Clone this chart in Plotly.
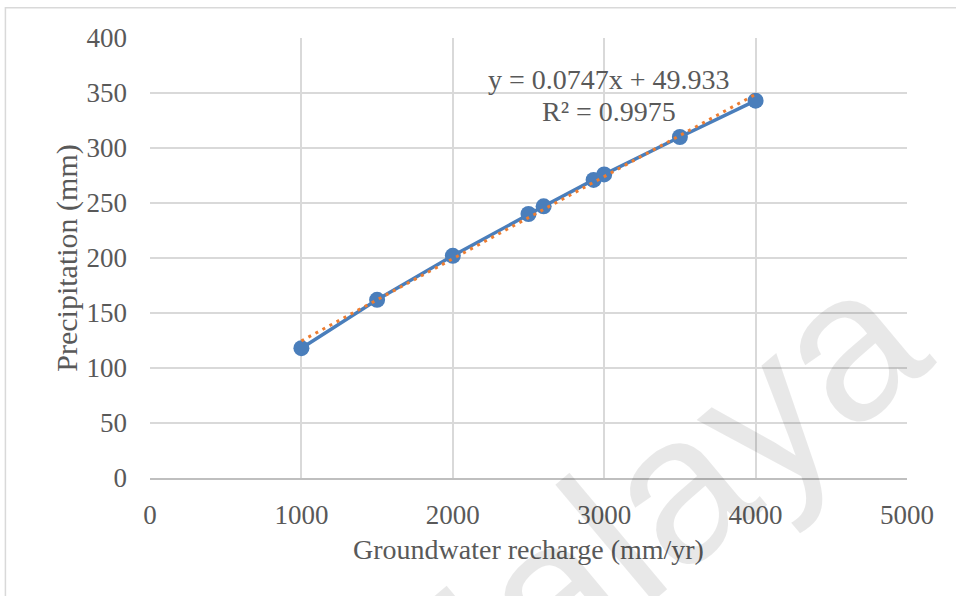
import plotly.graph_objects as go

# Data
recharge = [1000, 1500, 2000, 2500, 2600, 2930, 3000, 3500, 4000]
precip = [118, 162, 202, 240, 247, 271, 276, 310, 343]

# Linear trendline as shown on the chart
trend_slope = 0.0747
trend_intercept = 49.933
trend_r2 = 0.9975
trend_x = [min(recharge), max(recharge)]
trend_y = [trend_slope * v + trend_intercept for v in trend_x]

x_ticks = [0, 1000, 2000, 3000, 4000, 5000]
y_ticks = [0, 50, 100, 150, 200, 250, 300, 350, 400]

TEXT = "#595959"
GRID = "#d9d9d9"
SERIF = "Liberation Serif"

fig = go.Figure()
fig.add_trace(go.Scatter(
    x=recharge, y=precip, mode="lines+markers",
    line=dict(color="#4A7EBB", width=3.5),
    marker=dict(color="#4A7EBB", size=16),
    showlegend=False, hoverinfo="skip",
))
fig.add_trace(go.Scatter(
    x=trend_x, y=trend_y, mode="lines",
    line=dict(color="#ED7D31", width=3, dash="3px,5px"),
    showlegend=False, hoverinfo="skip",
))

fig.update_layout(
    width=956, height=596,
    margin=dict(l=150, r=49, t=38, b=118),
    paper_bgcolor="white", plot_bgcolor="white",
    font=dict(family=SERIF, color=TEXT, size=27),
    xaxis=dict(
        range=[0, 5000], tickvals=x_ticks, ticktext=[str(v) for v in x_ticks],
        showgrid=True, gridcolor=GRID, gridwidth=1.5, zeroline=False,
        showline=True, linecolor="#bfbfbf", linewidth=1.5,
        ticks="", ticklabelstandoff=12,
        tickfont=dict(family=SERIF, size=27, color=TEXT),
        title=dict(text="Groundwater recharge (mm/yr)", standoff=10,
                   font=dict(size=28, color=TEXT, family=SERIF)),
    ),
    yaxis=dict(
        range=[0, 400], tickvals=y_ticks, ticktext=[str(v) for v in y_ticks],
        showgrid=True, gridcolor=GRID, gridwidth=1.5, zeroline=False,
        showline=False, ticks="", ticklabelstandoff=22,
        tickfont=dict(family=SERIF, size=27, color=TEXT),
        title=dict(text="Precipitation (mm)", standoff=0,
                   font=dict(size=30, color=TEXT, family=SERIF)),
    ),
    shapes=[dict(type="rect", xref="paper", yref="paper",
                 x0=-0.191, x1=1.2, y0=-0.4, y1=1.069,
                 line=dict(color=GRID, width=1.5), fillcolor="rgba(0,0,0,0)",
                 layer="below")],
    annotations=[
        dict(x=3030, y=362, xref="x", yref="y",
             text=f"y = {trend_slope}x + {trend_intercept}",
             showarrow=False, font=dict(size=28, color=TEXT, family=SERIF),
             xanchor="center", yanchor="middle"),
        dict(x=3030, y=333, xref="x", yref="y",
             text=f"R² = {trend_r2}",
             showarrow=False, font=dict(size=28, color=TEXT, family=SERIF),
             xanchor="center", yanchor="middle"),
        dict(x=0.6365, y=-0.106, xref="paper", yref="paper",
             text="Malaya", showarrow=False, textangle=-40,
             font=dict(size=210, color="rgba(0,0,0,0.09)",
                       family="Liberation Sans"),
             xanchor="center", yanchor="middle"),
    ],
)

fig.write_html("out.html", config={"displayModeBar": False},
               post_script="document.body.style.margin='0';")
